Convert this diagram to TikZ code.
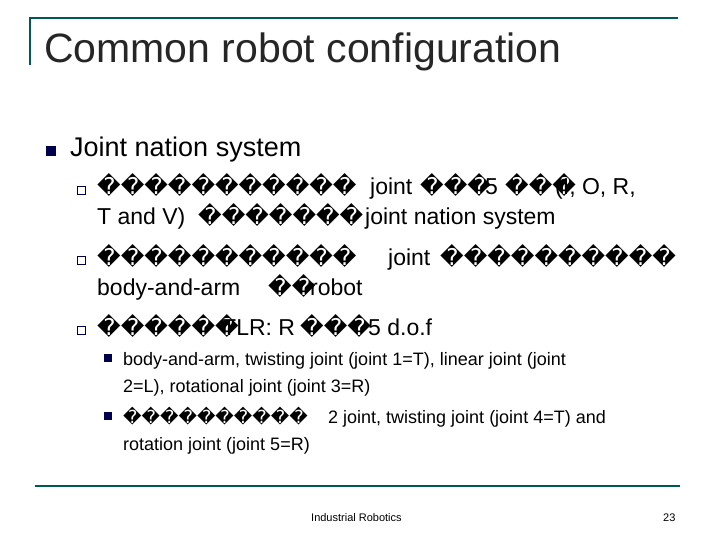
\documentclass[tikz,border=0pt]{standalone}
\usepackage{fontspec}
\setmainfont{Liberation Sans}
\newfontfamily\symfont{DejaVu Sans}
\tikzset{
  txt/.style={anchor=base west,inner sep=0pt},
  lvtwo/.style={txt,font=\fontsize{23}{26}\selectfont},
  lvthree/.style={txt,font=\fontsize{18}{21}\selectfont},
  rule/.style={draw=teal!70!black,line width=1.3pt}
}
\begin{document}
\begin{tikzpicture}[x=1pt,y=-1pt]
\useasboundingbox (0,0) rectangle (720,540);

% frame
\coordinate (tl) at (30,18);
\coordinate (tr) at (678,18);
\coordinate (lb) at (30,65);
\draw[rule] (lb) -- (tl) -- (tr);
\coordinate (bl) at (35,486);
\coordinate (br) at (680,486);
\draw[rule] (bl) -- (br);

\node[txt,font=\fontsize{41}{44}\selectfont,text=black!85] (title) at (44,63) {Common robot configuration};

% level 1
\fill[blue!30!black] (46,146) rectangle (56,156);
\node[txt,font=\fontsize{27}{30}\selectfont] (top) at (70,157) {Joint nation system};

% level 2 markers
\foreach \y in {195,265,335}
  \draw[blue!30!black,line width=0.8pt] (77,\y-9) rectangle (85,\y-1);

\node[lvtwo] (a1) at (97,195) {\symfont �����������};
\node[lvtwo] (a2) at (370,195) {joint};
\node[lvtwo] (a3) at (420,195) {\symfont ���};
\node[lvtwo] (a4) at (485,195) {5};
\node[lvtwo] (a5) at (505,195) {\symfont ���};
\node[lvtwo] (a6) at (555,195) {(I, O, R,};
\node[lvtwo] (b1) at (97,225) {T and V)};
\node[lvtwo] (b2) at (198,225) {\symfont �������};
\node[lvtwo] (b3) at (365,225) {joint nation system};
\node[lvtwo] (c1) at (97,265) {\symfont �����������};
\node[lvtwo] (c2) at (388,265) {joint};
\node[lvtwo] (c3) at (440,265) {\symfont ����������};
\node[lvtwo] (d1) at (97,295) {body-and-arm};
\node[lvtwo] (d2) at (268,295) {\symfont ��};
\node[lvtwo] (d3) at (310,295) {robot};
\node[lvtwo] (e1) at (97,335) {\symfont ������};
\node[lvtwo] (e2) at (222,335) {TLR: R};
\node[lvtwo] (e3) at (300,335) {\symfont ���};
\node[lvtwo] (e4) at (368,335) {5 d.o.f};

% level 3
\foreach \y in {365,423}
  \fill[blue!30!black] (104,\y-11) rectangle (112,\y-3);
\node[lvthree] (f1) at (123,365) {body-and-arm, twisting joint (joint 1=T), linear joint (joint};
\node[lvthree] (f2) at (123,392) {2=L), rotational joint (joint 3=R)};
\node[lvthree] (g1) at (123,423) {\symfont ����������};
\node[lvthree] (g2) at (328,423) {2 joint, twisting joint (joint 4=T) and};
\node[lvthree] (g3) at (123,450) {rotation joint (joint 5=R)};

% footer
\node[txt,font=\fontsize{11}{13}\selectfont] (foot) at (311,521) {Industrial Robotics};
\node[txt,font=\fontsize{11}{13}\selectfont] (page) at (663,521) {23};
\end{tikzpicture}
\end{document}
